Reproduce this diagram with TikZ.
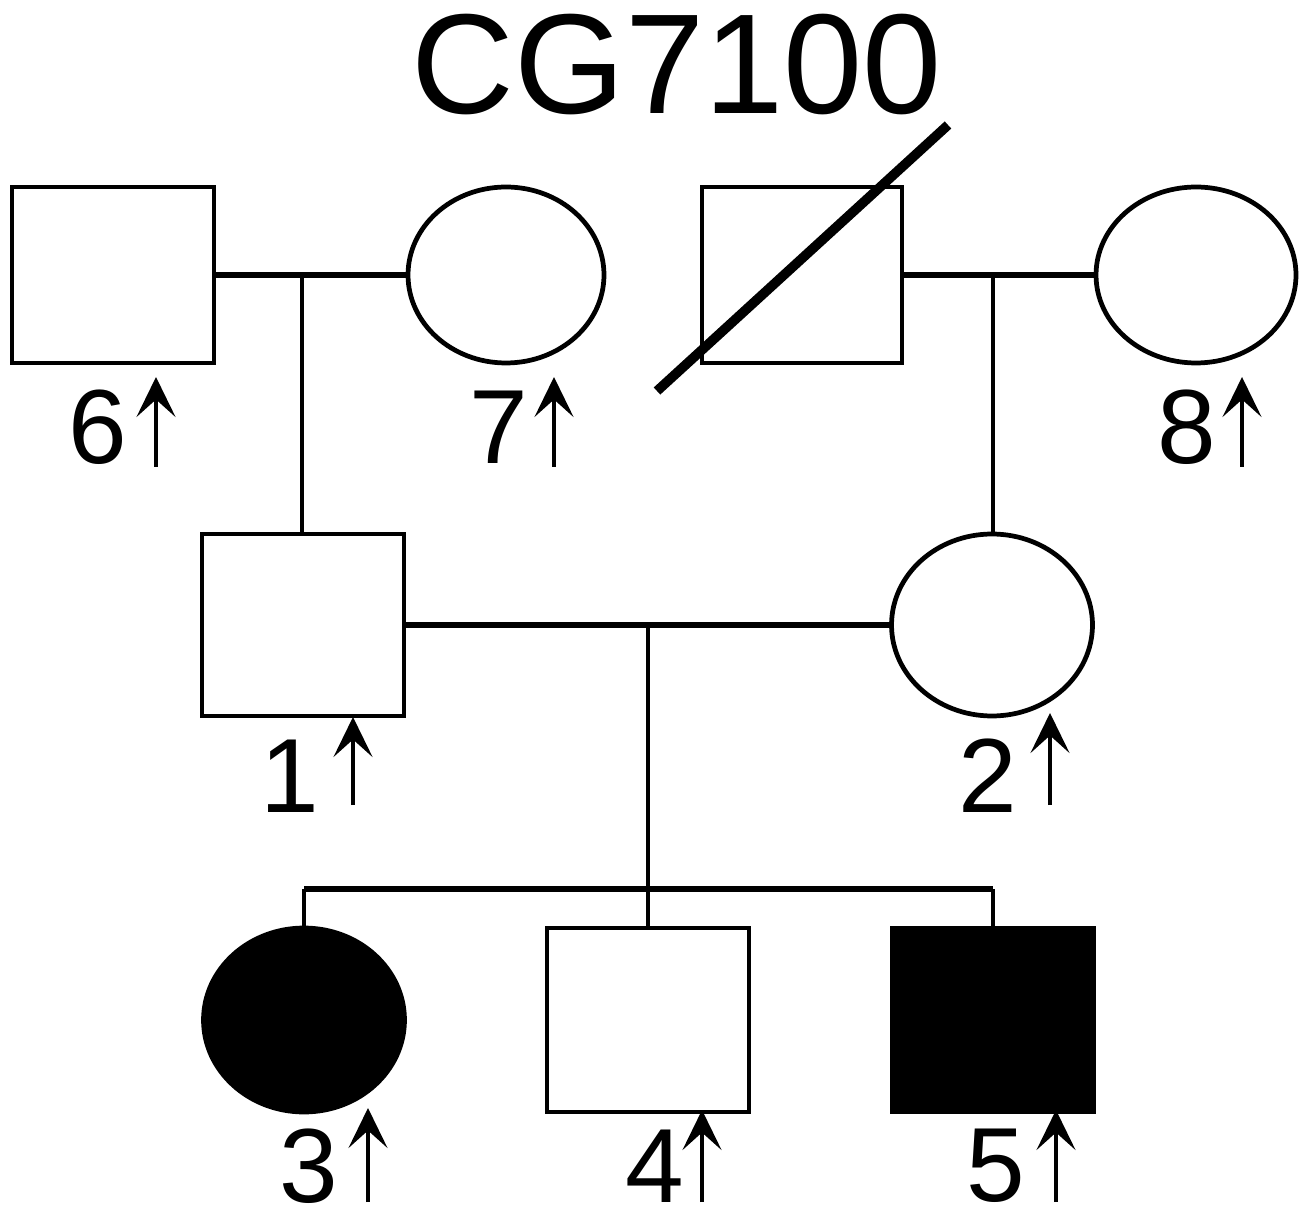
\documentclass[tikz,border=0pt]{standalone}
\usepackage{fontspec}
\setmainfont{Liberation Sans}
\usetikzlibrary{arrows.meta,shapes.geometric,positioning}

\begin{document}
\begin{tikzpicture}[
    x=0.02cm, y=-0.02cm,
    male/.style={draw,line width=2.7pt,rectangle,minimum width=4.04cm,minimum height=3.64cm,inner sep=0pt},
    female/.style={draw,line width=2.7pt,ellipse,minimum width=4.02cm,minimum height=3.64cm,inner sep=0pt},
    affected/.style={fill=black},
    couple/.style={line width=3.5pt},
    descent/.style={line width=2.3pt},
    idnum/.style={font=\fontsize{60}{60}\selectfont,inner sep=0pt},
    carrier/.style={line width=2.2pt,-{Stealth[length=0.8cm,width=0.78cm,inset=0.35cm]}}
]
\useasboundingbox (0,0) rectangle (1308,1222);

% Title
\node[font=\fontsize{81}{81}\selectfont,inner sep=0pt] (title) at (677,65) {CG7100};

% ===== Generation I =====
\node[male,minimum height=3.52cm]   (p6) at (113,275) {};
\node[female,minimum height=3.52cm,minimum width=3.92cm] (p7) at (506,275) {};
\node[male,minimum height=3.52cm,minimum width=4cm] (p9) at (802,275) {};
\node[female,minimum height=3.52cm,minimum width=4cm] (p8) at (1196,275) {};

% deceased
\draw[line width=5.5pt] (657,391) -- (948,125);

% couples
\draw[couple] (p6.east) -- (p7.west);
\draw[couple] (p9.east) -- (p8.west);
\coordinate (m67) at (302,275);
\coordinate (m98) at (993,275);

% ===== Generation II =====
\node[male]   (p1) at (303,625) {};
\node[female] (p2) at (992,625) {};

\draw[descent] (m67) -- (m67 |- p1.north);
\draw[descent] (m98) -- (m98 |- p2.north);

\draw[couple] (p1.east) -- (p2.west);
\coordinate (m12) at (648,625);
\coordinate (sib) at (648,889);
\draw[descent] (m12) -- (sib);

% ===== Generation III =====
\node[female,affected,minimum height=3.68cm] (p3) at (304,1020) {};
\node[male,minimum height=3.68cm]            (p4) at (648,1020) {};
\node[male,affected,minimum height=3.68cm]   (p5) at (993,1020) {};

% sibship
\draw[couple] (p3.north |- sib) -- (p5.north |- sib);
\draw[descent] (p3.north |- sib) -- (p3.north);
\draw[descent] (sib) -- (p4.north);
\draw[descent] (p5.north |- sib) -- (p5.north);

% ===== Numbers and arrows =====
\node[idnum] (l6) at (98,427) {6};
\draw[carrier] (156,467) -- (156,377);
\node[idnum] (l7) at (499,427) {7};
\draw[carrier] (554,467) -- (554,377);
\node[idnum] (l8) at (1187,427) {8};
\draw[carrier] (1242,467) -- (1242,377);

\node[idnum] (l1) at (290,776) {1};
\draw[carrier] (353,805) -- (353,717);
\node[idnum] (l2) at (988,776) {2};
\draw[carrier] (1050,805) -- (1050,713);

\node[idnum] (l3) at (309,1166) {3};
\draw[carrier] (368,1202) -- (368,1108);
\node[idnum] (l4) at (655,1166) {4};
\draw[carrier] (702,1202) -- (702,1110);
\node[idnum] (l5) at (996,1166) {5};
\draw[carrier] (1056,1202) -- (1056,1110);

\end{tikzpicture}
\end{document}
